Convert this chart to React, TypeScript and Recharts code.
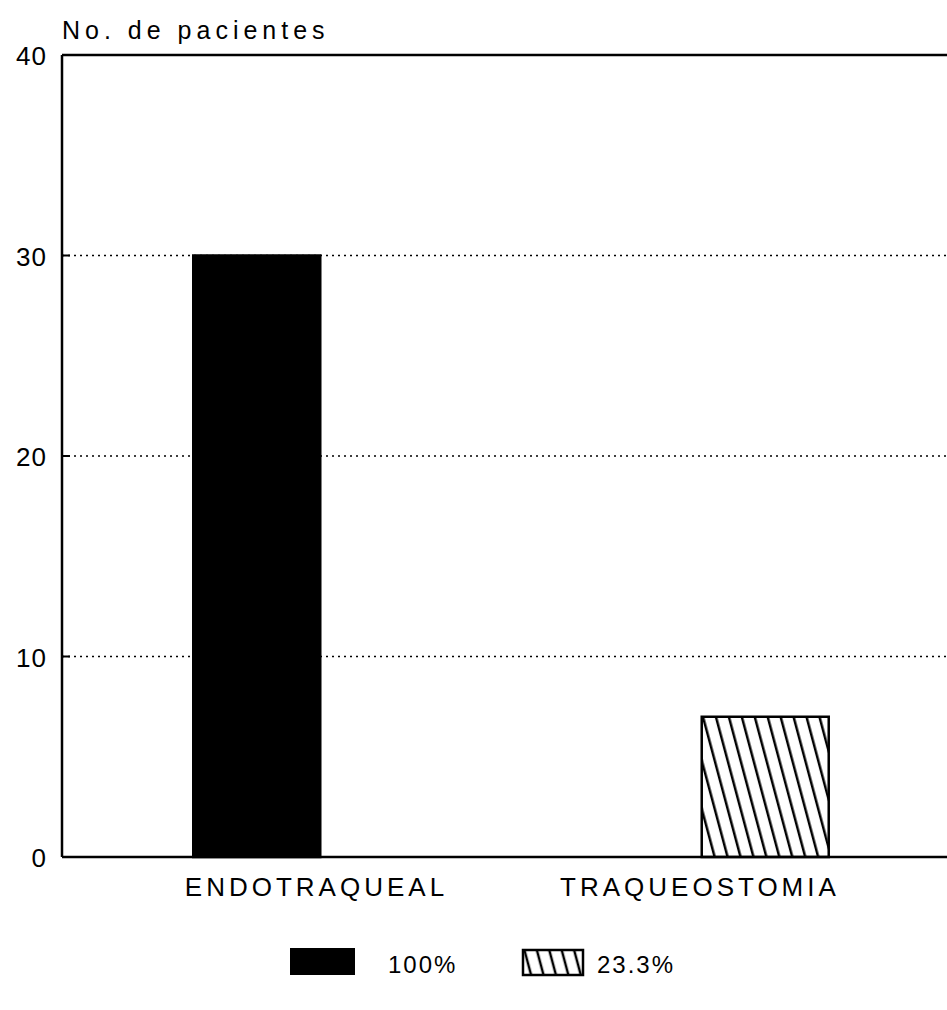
import {
  BarChart, Bar, XAxis, YAxis, CartesianGrid, ReferenceLine, Legend, Cell,
} from 'recharts'

const categories = ['ENDOTRAQUEAL', 'TRAQUEOSTOMIA']
const patients = [30, 7.0]
const legendLabels = ['100%', '23.3%']
const yTicks = [0, 10, 20, 30, 40]

const FONT = '"Liberation Sans", Arial, sans-serif'
const labelShift = [60, -65]

const data = categories.map((name, i) => ({ pos: i + 1, name, value: patients[i] }))

function YTick({ x, y, payload }: any) {
  return (
    <g>
      <text
        x={x} y={y + 1} textAnchor="end" dominantBaseline="central"
        fontFamily={FONT} fontSize={26} letterSpacing={1} fill="#000"
      >
        {payload.value}
      </text>
      <line x1={x + 15} x2={x + 23} y1={y} y2={y} stroke="#000" strokeWidth={2} />
    </g>
  )
}

function XTick({ x, y, payload, index }: any) {
  return (
    <text
      x={x + labelShift[index]} y={y + 30} textAnchor="middle" dominantBaseline="central"
      fontFamily={FONT} fontSize={26} letterSpacing={4} fill="#000"
    >
      {categories[payload.value - 1]}
    </text>
  )
}

function YTitle({ viewBox }: any) {
  return (
    <text
      x={viewBox.x + viewBox.width} y={viewBox.y - 25} dominantBaseline="central"
      fontFamily={FONT} fontSize={25} letterSpacing={5} fill="#000"
    >
      No. de pacientes
    </text>
  )
}

function LegendBox() {
  return (
    <svg width={947} height={93}>
      <defs>
        <pattern id="hatchLegend" patternUnits="userSpaceOnUse" width={12} height={12}
          patternTransform="rotate(-15)">
          <line x1={6} y1={0} x2={6} y2={12} stroke="#000" strokeWidth={2.5} />
        </pattern>
      </defs>
      <rect x={290} y={31} width={65} height={27} fill="#000" />
      <text x={388} y={47} dominantBaseline="central" fontFamily={FONT} fontSize={24}
        letterSpacing={2} fill="#000">{legendLabels[0]}</text>
      <rect x={523} y={33} width={60} height={25} fill="url(#hatchLegend)" stroke="#000"
        strokeWidth={2.5} />
      <text x={597} y={47} dominantBaseline="central" fontFamily={FONT} fontSize={24}
        letterSpacing={2} fill="#000">{legendLabels[1]}</text>
    </svg>
  )
}

export default function App() {
  return (
    <div style={{ position: 'absolute', left: 0, top: 0, background: '#fff' }}>
      <BarChart
        width={947} height={1010} data={data}
        margin={{ top: 55, right: 0, left: 0, bottom: 0 }}
      >
        <defs>
          <pattern id="hatch" patternUnits="userSpaceOnUse" width={12.5} height={12.5}
            patternTransform="rotate(-15)">
            <line x1={6} y1={0} x2={6} y2={12.5} stroke="#000" strokeWidth={2.5} />
          </pattern>
        </defs>
        <CartesianGrid vertical={false} stroke="#000" strokeWidth={1.5} strokeDasharray="2 4" />
        <XAxis
          dataKey="pos" type="number" domain={[0.6175, 2.358]} ticks={[1, 2]}
          height={60} tickSize={0} tickMargin={0} tick={<XTick />}
          axisLine={{ stroke: '#000', strokeWidth: 2.5 }} allowDataOverflow
        />
        <YAxis
          domain={[0, 40]} ticks={yTicks} width={62} tickSize={0} tickMargin={15}
          tick={<YTick />} axisLine={{ stroke: '#000', strokeWidth: 2.5 }}
          label={<YTitle />}
        />
        <ReferenceLine y={40} stroke="#000" strokeWidth={2.5} />
        <Legend verticalAlign="bottom" align="left" width={947} height={93} content={<LegendBox />} />
        <Bar dataKey="value" barSize={127} isAnimationActive={false} stroke="#000" strokeWidth={2.5}>
          {data.map((d, i) => (
            <Cell key={d.name} fill={i === 0 ? '#000' : 'url(#hatch)'} />
          ))}
        </Bar>
      </BarChart>
    </div>
  )
}
